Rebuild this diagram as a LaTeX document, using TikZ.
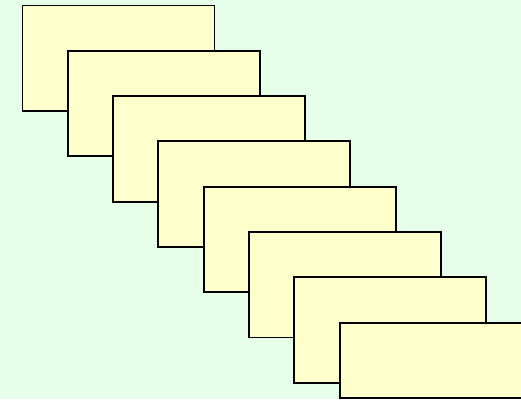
\documentclass[tikz,border=0pt]{standalone}
\usetikzlibrary{positioning}
\definecolor{bgGreen}{HTML}{E6FFE9}
\definecolor{cardFill}{HTML}{FFFFCC}

\begin{document}
\begin{tikzpicture}[
  x=1pt, y=-1pt,
  card/.style={draw=black, fill=cardFill, line width=1.9pt, anchor=north west,
    inner sep=0pt, minimum width=192pt, minimum height=105.5pt}
]

\def\xFirst{21.5}
\def\yFirst{4.5}
\def\dStep{45.3}

% background and frame
\fill[bgGreen] (0,0) rectangle (521,399);
\useasboundingbox (0,0) rectangle (521,399);
\clip (0,0) rectangle (521,399);

% stacked cards
\foreach \i in {0,...,6} {
  \node[card] (card\i) at (\xFirst+\dStep*\i, \yFirst+\dStep*\i) {};
}
\node[card, minimum height=75.5pt] (card7) at (\xFirst+\dStep*7, \yFirst+\dStep*7) {};

\end{tikzpicture}
\end{document}
